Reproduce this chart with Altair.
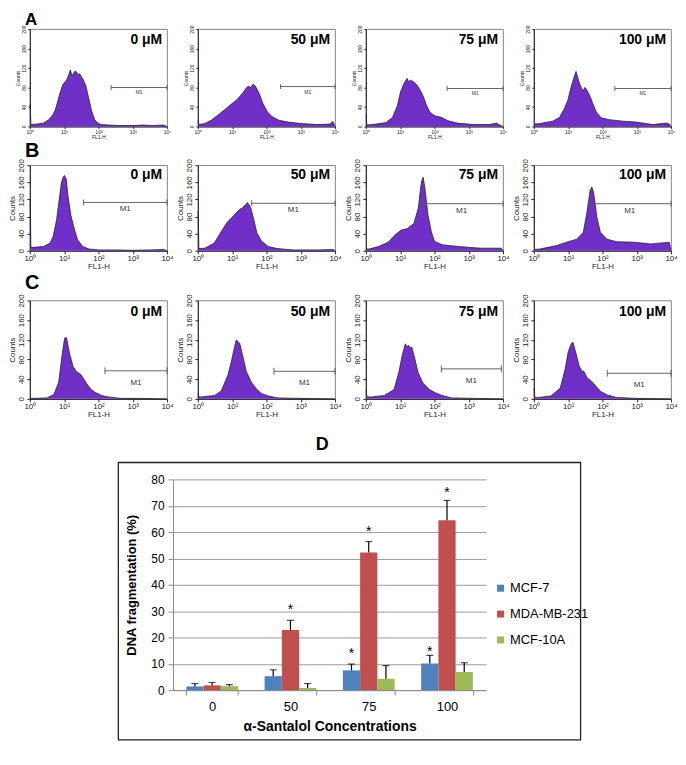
import altair as alt
import pandas as pd

FONT = "Liberation Sans"
PURPLE = "#7030c8"
SUP = "['10\u2070','10\u00b9','10\u00b2','10\u00b3','10\u2074'][datum.value]"

# ---------------- flow-cytometry histograms (FL1-H in decades, counts) -------------
# Row A
A0_fl1 = [0, 0.01, 0.03, 0.2, 0.4, 0.55, 0.65, 0.73, 0.8, 0.87, 0.96, 1.03, 1.09, 1.14, 1.18, 1.23, 1.27, 1.32, 1.36, 1.41, 1.45, 1.5, 1.54, 1.63, 1.71, 1.8, 1.89, 1.98, 2.07, 2.3, 2.6, 3.0, 3.3, 3.6, 3.9, 4.0]
A0_cnt = [45, 45, 4, 5, 7, 14, 22, 32, 48, 67, 86, 92, 98, 108, 116, 104, 109, 114, 112, 105, 109, 102, 98, 84, 60, 32, 14, 7, 4, 3, 2, 2, 3, 2, 3, 0]
A1_fl1 = [0, 0.01, 0.03, 0.2, 0.39, 0.58, 0.77, 0.96, 1.14, 1.25, 1.33, 1.4, 1.47, 1.54, 1.61, 1.66, 1.7, 1.8, 1.89, 2.03, 2.17, 2.36, 2.64, 3.02, 3.48, 3.85, 3.93, 3.97, 4.0]
A1_cnt = [12, 12, 4, 6, 13, 23, 34, 45, 55, 64, 71, 78, 83, 80, 87, 84, 80, 66, 48, 30, 20, 13, 9, 6, 4, 5, 10, 5, 0]
A2_fl1 = [0, 0.01, 0.03, 0.3, 0.59, 0.78, 0.92, 1.01, 1.11, 1.16, 1.2, 1.25, 1.3, 1.39, 1.49, 1.58, 1.68, 1.77, 1.87, 2.01, 2.2, 2.39, 2.67, 3.15, 3.6, 3.81, 3.9, 4.0]
A2_cnt = [22, 22, 3, 5, 8, 19, 43, 71, 88, 94, 99, 92, 95, 92, 85, 75, 61, 43, 29, 22, 19, 12, 7, 4, 4, 7, 3, 0]
A3_fl1 = [0, 0.17, 0.55, 0.75, 0.89, 0.99, 1.09, 1.18, 1.23, 1.28, 1.33, 1.43, 1.48, 1.52, 1.62, 1.72, 1.82, 1.96, 2.2, 2.59, 2.98, 3.47, 3.85, 3.95, 4.0]
A3_cnt = [5, 6, 11, 19, 37, 54, 82, 103, 113, 100, 89, 72, 80, 78, 65, 47, 30, 18, 14, 11, 9, 4, 7, 5, 0]
# Row B
B0_fl1 = [0, 0.01, 0.03, 0.11, 0.4, 0.59, 0.68, 0.78, 0.87, 0.92, 0.97, 1.01, 1.06, 1.11, 1.2, 1.3, 1.39, 1.54, 1.73, 2.0, 2.5, 3.0, 3.5, 3.9, 4.0]
B0_cnt = [120, 120, 8, 8, 10, 18, 34, 73, 129, 160, 172, 176, 168, 129, 81, 50, 26, 10, 4, 2, 2, 1, 2, 3, 0]
B1_fl1 = [0, 0.01, 0.03, 0.2, 0.48, 0.66, 0.85, 1.03, 1.22, 1.3, 1.35, 1.4, 1.45, 1.54, 1.63, 1.72, 1.86, 2.05, 2.32, 2.78, 3.5, 3.95, 4.0]
B1_cnt = [93, 93, 5, 6, 18, 42, 66, 81, 97, 100, 105, 108, 113, 101, 73, 42, 22, 10, 5, 2, 2, 3, 0]
B2_fl1 = [0, 0.09, 0.37, 0.65, 0.84, 1.02, 1.21, 1.4, 1.53, 1.6, 1.63, 1.67, 1.72, 1.81, 1.91, 2.0, 2.23, 2.7, 3.35, 3.95, 4.0]
B2_cnt = [4, 4, 10, 20, 36, 48, 52, 64, 100, 150, 164, 172, 148, 84, 44, 22, 14, 10, 6, 6, 0]
B3_fl1 = [0, 0.17, 0.66, 0.95, 1.25, 1.44, 1.54, 1.64, 1.69, 1.74, 1.84, 1.94, 2.13, 2.43, 2.92, 3.41, 3.95, 4.0]
B3_cnt = [3, 4, 12, 20, 27, 43, 86, 141, 149, 137, 78, 43, 27, 21, 20, 16, 20, 0]
# Row C
C0_fl1 = [0, 0.05, 0.5, 0.7, 0.84, 0.93, 1.0, 1.02, 1.07, 1.16, 1.26, 1.35, 1.49, 1.63, 1.77, 1.91, 2.09, 2.28, 2.65, 3.2, 4.0]
C0_cnt = [0, 1, 2, 9, 34, 84, 118, 124, 124, 91, 66, 56, 49, 34, 20, 13, 7, 4, 1, 1, 0]
C1_fl1 = [0, 0.01, 0.03, 0.1, 0.49, 0.68, 0.88, 0.98, 1.07, 1.12, 1.22, 1.32, 1.41, 1.56, 1.71, 1.85, 2.05, 2.34, 3.0, 4.0]
C1_cnt = [10, 10, 4, 4, 7, 16, 49, 77, 106, 120, 113, 84, 56, 34, 20, 11, 6, 2, 1, 0]
C2_fl1 = [0, 0.01, 0.03, 0.17, 0.54, 0.82, 0.96, 1.06, 1.15, 1.2, 1.24, 1.29, 1.34, 1.43, 1.52, 1.66, 1.85, 2.04, 2.22, 2.5, 3.2, 4.0]
C2_cnt = [19, 19, 4, 4, 7, 19, 54, 88, 112, 106, 109, 104, 105, 81, 54, 33, 19, 12, 7, 2, 1, 0]
C3_fl1 = [0, 0.01, 0.03, 0.14, 0.5, 0.77, 0.91, 1.0, 1.09, 1.14, 1.23, 1.32, 1.41, 1.45, 1.55, 1.68, 1.82, 1.95, 2.14, 2.41, 3.0, 4.0]
C3_cnt = [22, 22, 3, 3, 6, 22, 60, 95, 112, 115, 92, 67, 55, 57, 43, 36, 25, 15, 8, 3, 1, 0]

conc_labels = ["0 \u03bcM", "50 \u03bcM", "75 \u03bcM", "100 \u03bcM"]

# M1 gate markers (start decade, end decade, count level)
A_m1_start = [2.37, 2.41, 2.37, 2.36]
A_m1_end = [4.0, 4.0, 4.0, 4.0]
A_m1_level = [80, 82, 78, 78]
B_m1_start = [1.56, 1.57, 1.58, 1.59]
B_m1_end = [4.0, 4.0, 4.0, 4.0]
B_m1_level = [113, 111, 110, 110]
C_m1_start = [2.19, 2.22, 2.2, 2.14]
C_m1_end = [4.0, 4.0, 3.95, 4.0]
C_m1_level = [57, 56, 61, 52]

# ---------------- bar chart D ----------------
concentrations = ["0", "50", "75", "100"]
series_names = ["MCF-7", "MDA-MB-231", "MCF-10A"]
series_colors = ["#4f81bd", "#c0504d", "#9bbb59"]
mcf7 = [1.4, 5.3, 7.5, 10.1]
mcf7_err = [1.1, 2.4, 2.4, 3.1]
mda = [1.8, 22.8, 52.2, 64.5]
mda_err = [1.1, 3.7, 4.2, 7.5]
mcf10a = [1.5, 0.8, 4.3, 6.9]
mcf10a_err = [0.6, 1.7, 5.0, 3.5]
mcf7_star = [None, None, 14.7, 15.7]
mda_star = [None, 31.7, 61.0, 76.1]
mcf10a_star = [None, None, None, None]

PW = 138


def row_style(row):
    if row == "A":
        return dict(w=PW, h=98, lf=5, tf=5, mf=5, letter_size=17, letter_y=-4,
                    conc_y=15, ts=2)
    if row == "B":
        return dict(w=PW, h=86, lf=8, tf=8, mf=8, letter_size=20, letter_y=-8,
                    conc_y=14, ts=3)
    return dict(w=PW, h=99, lf=8, tf=8, mf=8, letter_size=20, letter_y=-12,
                conc_y=16, ts=3)


def panel(fl1, cnt, conc, m1x, m1x2, m1y, row, letter=None):
    st = row_style(row)
    df = pd.DataFrame({"fl1": fl1, "cnt": cnt})
    xsc = alt.Scale(domain=[0, 4], nice=False, zero=False)
    ysc = alt.Scale(domain=[0, 200], nice=False)
    common = dict(labelFontSize=st["lf"], titleFontSize=st["tf"], tickSize=st["ts"],
                  labelPadding=1, grid=False, domainColor="#222",
                  tickColor="#222", labelColor="#222", titleColor="#222",
                  labelFont=FONT, titleFont=FONT, titleFontWeight="normal",
                  labelFlush=False)
    xax = alt.Axis(values=[0, 1, 2, 3, 4], labelExpr=SUP, title="FL1-H",
                   titlePadding=0, **common)
    yax = alt.Axis(values=[0, 40, 80, 120, 160, 200], title="Counts",
                   labelAngle=270, labelAlign="center", labelBaseline="bottom",
                   titlePadding=1, **common)
    X = lambda f: alt.X(f, scale=xsc, axis=xax)
    Y = lambda f: alt.Y(f, scale=ysc, axis=yax)
    area = alt.Chart(df).mark_area(
        color=PURPLE, opacity=1, interpolate="linear",
        line={"color": "#151515", "strokeWidth": 0.7},
    ).encode(x=X("fl1:Q"), y=Y("cnt:Q"))

    tk = 7 if row != "A" else 5
    mdf = pd.DataFrame({"fl1": [m1x], "x2": [m1x2], "cnt": [m1y],
                        "mid": [(m1x + m1x2) / 2], "lab": ["M1"]})
    cdf = pd.DataFrame({"fl1": [m1x, m1x2], "cnt": [m1y - tk, m1y - tk],
                        "yhi": [m1y + tk, m1y + tk]})
    gate = alt.Chart(mdf).mark_rule(color="#555", strokeWidth=0.9).encode(
        x=X("fl1:Q"), x2="x2:Q", y=Y("cnt:Q"))
    caps = alt.Chart(cdf).mark_rule(color="#555", strokeWidth=0.9).encode(
        x=X("fl1:Q"), y=Y("cnt:Q"), y2="yhi:Q")
    mtext = alt.Chart(mdf).mark_text(
        fontSize=st["mf"], font=FONT, baseline="top", color="#333",
        dy=3 if row != "C" else 8,
    ).encode(x=X("mid:Q"), y=Y("cnt:Q"), text="lab:N")
    lab = alt.Chart(pd.DataFrame({"t": [conc]})).mark_text(
        align="right", baseline="alphabetic", fontSize=14, fontWeight="bold",
        font=FONT, color="#000",
    ).encode(x=alt.value(st["w"] - 5), y=alt.value(st["conc_y"]), text="t:N")
    layers = [area, gate, caps, mtext, lab]
    if letter:
        layers.append(alt.Chart(pd.DataFrame({"t": [letter]})).mark_text(
            align="left", baseline="alphabetic", fontSize=st["letter_size"],
            fontWeight="bold", font=FONT, color="#000",
        ).encode(x=alt.value(-5), y=alt.value(st["letter_y"]), text="t:N"))
    return alt.layer(*layers).properties(
        width=st["w"], height=st["h"],
        view=alt.ViewBackground(stroke="#666", strokeWidth=0.8))


hist_rows = {
    "A": ([(A0_fl1, A0_cnt), (A1_fl1, A1_cnt), (A2_fl1, A2_cnt), (A3_fl1, A3_cnt)],
          A_m1_start, A_m1_end, A_m1_level),
    "B": ([(B0_fl1, B0_cnt), (B1_fl1, B1_cnt), (B2_fl1, B2_cnt), (B3_fl1, B3_cnt)],
          B_m1_start, B_m1_end, B_m1_level),
    "C": ([(C0_fl1, C0_cnt), (C1_fl1, C1_cnt), (C2_fl1, C2_cnt), (C3_fl1, C3_cnt)],
          C_m1_start, C_m1_end, C_m1_level),
}

panels = []
for row in ["A", "B", "C"]:
    data, ms, me, ml = hist_rows[row]
    for i, (fx, cy) in enumerate(data):
        panels.append(panel(fx, cy, conc_labels[i], ms[i], me[i], ml[i], row,
                            letter=row if i == 0 else None))

grid = alt.concat(*panels, columns=4, spacing={"row": 0, "column": 2})

# ---------------- bar chart ----------------
recs = []
for s, vals, errs, stars in [("MCF-7", mcf7, mcf7_err, mcf7_star),
                             ("MDA-MB-231", mda, mda_err, mda_star),
                             ("MCF-10A", mcf10a, mcf10a_err, mcf10a_star)]:
    for c, v, e, st in zip(concentrations, vals, errs, stars):
        recs.append({"conc": c, "series": s, "value": v, "top": v + e,
                     "star": st})
bdf = pd.DataFrame(recs)
sdf = bdf.dropna(subset=["star"])

BW, BH = 315, 212
xaxis_b = alt.Axis(title="\u03b1-Santalol Concentrations", labelAngle=0,
                   tickBand="extent", labelFontSize=13, titleFontSize=14,
                   titleFontWeight="bold", labelFont=FONT, titleFont=FONT,
                   domainColor="#8a8a8a", tickColor="#8a8a8a", tickSize=5,
                   labelPadding=6, titlePadding=6, labelColor="#000",
                   titleColor="#000")
xscale_b = alt.Scale(paddingInner=0.34, paddingOuter=0.17)
xb = alt.X("conc:N", sort=concentrations, scale=xscale_b, axis=xaxis_b)
xo = alt.XOffset("series:N", sort=series_names,
                 scale=alt.Scale(paddingInner=0, paddingOuter=0))
yaxis_b = alt.Axis(values=list(range(0, 81, 10)), grid=True,
                   gridColor="#9a9a9a", gridWidth=1, domainColor="#8a8a8a",
                   tickColor="#8a8a8a", tickSize=5, labelFontSize=12,
                   labelFont=FONT, labelColor="#000",
                   title="DNA fragmentation (%)", titleFontSize=13,
                   titleFontWeight="bold", titleFont=FONT,
                   titleColor="#000", labelPadding=4, titlePadding=12)
yscale_b = alt.Scale(domain=[0, 80], nice=False)
YB = lambda f: alt.Y(f, scale=yscale_b, axis=yaxis_b)

bars = alt.Chart(bdf).mark_bar().encode(
    x=xb, xOffset=xo, y=YB("value:Q"),
    color=alt.Color("series:N", sort=series_names,
                    scale=alt.Scale(domain=series_names, range=series_colors),
                    legend=alt.Legend(title=None, orient="none", legendX=323,
                                      legendY=103, symbolType="square",
                                      symbolSize=50, symbolStrokeWidth=0,
                                      labelFontSize=13, labelFont=FONT,
                                      labelColor="#000", rowPadding=12,
                                      labelOffset=3)))
err = alt.Chart(bdf).mark_rule(color="#000", strokeWidth=1.2).encode(
    x=xb, xOffset=xo, y=YB("value:Q"), y2="top:Q")
cap = alt.Chart(bdf).mark_tick(color="#000", thickness=1.2, size=7).encode(
    x=xb, xOffset=xo, y=YB("top:Q"))
star = alt.Chart(sdf).mark_text(text="*", fontSize=14, font=FONT, dy=3,
                                baseline="middle", color="#000").encode(
    x=xb, xOffset=xo, y=YB("star:Q"))
frame = alt.Chart(pd.DataFrame({"k": [0]})).mark_rect(
    fill="transparent", stroke="#222", strokeWidth=1.3).encode(
    x=alt.value(-55), x2=alt.value(410), y=alt.value(-17), y2=alt.value(262))
dlab = alt.Chart(pd.DataFrame({"t": ["D"]})).mark_text(
    fontSize=18, fontWeight="bold", font=FONT, baseline="alphabetic",
    color="#000").encode(x=alt.value(150), y=alt.value(-30), text="t:N")

barchart = alt.layer(frame, bars, err, cap, star, dlab).properties(
    width=BW, height=BH, view=alt.ViewBackground(stroke="transparent"))

# empty spacer that shifts panel D to the right on the page
spacer = alt.Chart(pd.DataFrame({"k": [0]})).mark_point(opacity=0).encode(
    x=alt.value(0), y=alt.value(0)).properties(
    width=82, height=10, view=alt.ViewBackground(stroke="transparent"))

bottom = alt.hconcat(spacer, barchart, spacing=4).resolve_scale(
    color="independent").resolve_legend(color="independent")

chart = alt.vconcat(grid, bottom, spacing=15, padding=0).resolve_scale(
    color="independent").resolve_legend(color="independent").configure(
    font=FONT).configure_view(stroke="#666")

chart.save("out.html", embed_options={"renderer": "svg", "actions": False})
